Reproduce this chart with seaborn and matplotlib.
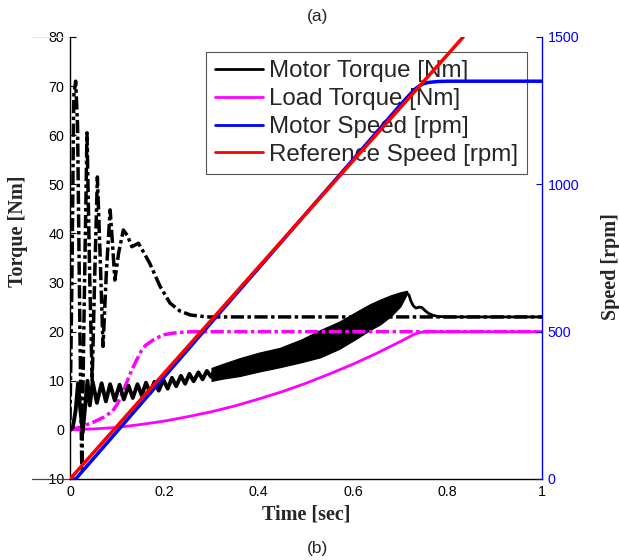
import matplotlib
matplotlib.use('Agg')
import matplotlib.pyplot as plt
import seaborn as sns
from matplotlib.lines import Line2D

# =====================
# DATA
# =====================
# reference speed [rpm]
t_ref = [0.0, 0.833]
spd_ref = [0, 1500]

# motor speed [rpm]
t_spd = [0.0, 0.012, 0.1, 0.2, 0.3, 0.4, 0.5, 0.6, 0.7, 0.72, 0.73, 0.74, 0.75, 0.76, 0.78, 0.8, 1.0]
spd_motor = [0, 0, 162, 347, 532, 716, 901, 1085, 1270, 1305, 1322, 1334, 1342, 1346, 1349, 1350, 1350]

# load torque, solid case [Nm]
t_load = [0.0, 0.05, 0.1, 0.15, 0.2, 0.25, 0.3, 0.35, 0.4, 0.45, 0.5, 0.55, 0.6, 0.65, 0.7,
          0.72, 0.73, 0.74, 0.75, 0.76, 0.78, 1.0]
tq_load = [0, 0.2, 0.5, 1.1, 1.8, 2.7, 3.7, 4.9, 6.3, 7.8, 9.5, 11.4, 13.4, 15.6, 18.0,
           19.0, 19.5, 19.8, 19.95, 20, 20, 20]

# load torque, dash-dot case [Nm]
t_load2 = [0.0, 0.02, 0.05, 0.07, 0.09, 0.1, 0.11, 0.12, 0.13, 0.14, 0.15, 0.16, 0.176,
           0.19, 0.2, 0.218, 0.24, 0.26, 1.0]
tq_load2 = [0, 0.5, 1.6, 2.5, 3.8, 5.2, 7.3, 9.6, 12.0, 14.0, 15.9, 17.2, 18.3,
            19.0, 19.4, 19.7, 19.9, 20, 20]

# motor torque, dash-dot case [Nm]
t_mt2 = [0.0, 0.004, 0.008, 0.012, 0.016, 0.021, 0.025, 0.030, 0.036, 0.042, 0.047, 0.052,
         0.058, 0.064, 0.070, 0.077, 0.085, 0.090, 0.095, 0.103, 0.113, 0.122, 0.131, 0.145,
         0.157, 0.169, 0.191, 0.212, 0.233, 0.255, 0.29, 1.0]
tq_mt2 = [2, 30, 68, 71, 62, 20, -8, 25, 60.5, 30, 10, 30,
          51.5, 35, 17, 32, 44.8, 38, 30.5, 36, 40.7, 39.5, 37.3, 38.0,
          36.0, 33.9, 29.2, 25.8, 24.2, 23.4, 23.0, 23.0]

# motor torque, solid case: start-up ripple [Nm]
t_mt_start = [0.0, 0.006, 0.012, 0.017, 0.022, 0.027, 0.037, 0.042, 0.048, 0.057, 0.067,
              0.076, 0.085, 0.095, 0.105, 0.114, 0.124, 0.133, 0.143, 0.152, 0.161, 0.170,
              0.179, 0.188, 0.198, 0.207, 0.216, 0.225, 0.235, 0.244, 0.253, 0.262, 0.272,
              0.281, 0.29, 0.299, 0.308, 0.317]
tq_mt_start = [0, 0.5, 4, 9.5, 4, -0.5, 10, 5, 9.8, 5.5, 9.5,
               5.8, 9.3, 6.0, 9.2, 6.2, 9.0, 6.5, 9.3, 7.0, 9.6, 7.5,
               9.8, 8.0, 10.2, 8.4, 10.6, 8.9, 11.0, 9.4, 11.4, 9.9, 11.7,
               10.3, 12.0, 10.8, 12.3, 11.4]

# motor torque, solid case: dense ripple band (envelope) [Nm]
t_band = [0.30, 0.32, 0.36, 0.40, 0.445, 0.49, 0.53, 0.57, 0.61, 0.636, 0.657, 0.68, 0.70, 0.714]
band_hi = [12.6, 13.3, 14.6, 15.7, 16.7, 18.4, 20.3, 22.0, 24.2, 25.6, 26.5, 27.4, 28.0, 28.3]
band_lo = [10.0, 10.4, 11.0, 11.9, 12.8, 13.8, 14.8, 16.5, 18.8, 20.4, 21.5, 23.2, 25.2, 27.8]

# motor torque, solid case: after the ramp [Nm]
t_mt_end = [0.714, 0.718, 0.722, 0.727, 0.733, 0.74, 0.746, 0.752, 0.76, 0.77, 0.78, 0.8, 1.0]
tq_mt_end = [27.8, 27.5, 26.3, 25.3, 24.8, 25.0, 24.9, 24.3, 23.7, 23.3, 23.1, 23.0, 23.0]

x_ticks = [0, 0.2, 0.4, 0.6, 0.8, 1.0]
x_ticklabels = ['0', '0.2', '0.4', '0.6', '0.8', '1']
tq_ticks = list(range(-10, 81, 10))
spd_ticks = [0, 500, 1000, 1500]
grid_tq = [20, 50, 80]   # torque levels that line up with the speed ticks

# =====================
# STYLE
# =====================
sns.set_style('white')
plt.rcParams['font.family'] = ['Liberation Sans', 'DejaVu Sans']
serif_bold = dict(family=['Liberation Serif', 'DejaVu Serif'], fontweight='bold', fontsize=14.5)

BLACK, MAGENTA, BLUE, RED = '#000000', '#ff00ff', '#0000ff', '#ff0000'
GRID = '#e2e2f8'
dashdot = (0, (3.8, 1.0, 1.0, 1.0))

fig = plt.figure(figsize=(6.19, 5.6), dpi=100)
ax = fig.add_axes([70 / 619, 81 / 560, 472 / 619, 442 / 560])
ax2 = ax.twinx()

# =====================
# TORQUE (left axis)
# =====================
ax.set_yticks(grid_tq, minor=True)
ax.grid(which='minor', axis='y', color=GRID, lw=0.8)
ax.set_axisbelow(True)

sns.lineplot(x=t_mt2, y=tq_mt2, ax=ax, color=BLACK, lw=2.5, linestyle=dashdot,
             estimator=None, sort=False)
sns.lineplot(x=t_load2, y=tq_load2, ax=ax, color=MAGENTA, lw=2.5, linestyle=dashdot,
             estimator=None, sort=False)
sns.lineplot(x=t_load, y=tq_load, ax=ax, color=MAGENTA, lw=2.0, estimator=None, sort=False)
sns.lineplot(x=t_mt_start, y=tq_mt_start, ax=ax, color=BLACK, lw=2.8, estimator=None, sort=False)
ax.fill_between(t_band, band_lo, band_hi, color=BLACK, lw=1.0, edgecolor=BLACK)
sns.lineplot(x=t_mt_end, y=tq_mt_end, ax=ax, color=BLACK, lw=2.0, estimator=None, sort=False)

ax.set_xlim(0, 1)
ax.set_ylim(-10, 80)
ax.set_xticks(x_ticks)
ax.set_xticklabels(x_ticklabels)
ax.set_yticks(tq_ticks)
ax.tick_params(axis='both', which='major', direction='in', length=4, width=0.8,
               labelsize=10.3, colors='black', pad=4, right=False, top=False)
ax.tick_params(axis='y', which='minor', length=0)
for side in ['top', 'right']:
    ax.spines[side].set_visible(False)
for side in ['left', 'bottom']:
    ax.spines[side].set_color('black')
    ax.spines[side].set_linewidth(1.0)

ax.set_xlabel('Time [sec]', **serif_bold)
ax.xaxis.set_label_coords(0.5, -0.058)
ax.set_ylabel('Torque [Nm]', **serif_bold)
ax.yaxis.set_label_coords(-0.089, 0.56)

# =====================
# SPEED (right axis)
# =====================
sns.lineplot(x=t_spd, y=spd_motor, ax=ax2, color=BLUE, lw=2.5, estimator=None, sort=False)
sns.lineplot(x=t_ref, y=spd_ref, ax=ax2, color=RED, lw=2.5, estimator=None, sort=False)
ax2.set_ylim(0, 1500)
ax2.set_yticks(spd_ticks)
ax2.grid(False)
ax2.tick_params(axis='y', direction='in', length=4, width=0.8, labelsize=10.3,
                colors=BLUE, labelcolor=BLUE, pad=4)
for side in ['top', 'left', 'bottom']:
    ax2.spines[side].set_visible(False)
ax2.spines['right'].set_color(BLUE)
ax2.spines['right'].set_linewidth(1.0)
ax2.set_ylabel('Speed [rpm]', **serif_bold)
ax2.yaxis.set_label_coords(1.124, 0.48)

# light lines running past the left spine, as in the original export
ax.axhline(80, xmin=-0.08, xmax=0.0, color=GRID, lw=0.8, clip_on=False)
ax.axhline(-10, xmin=-0.08, xmax=0.0, color='#444444', lw=0.9, clip_on=False)

# =====================
# LEGEND (sits under the speed lines, as in the reference)
# =====================
handles = [Line2D([], [], color=BLACK, lw=2.0), Line2D([], [], color=MAGENTA, lw=2.0),
           Line2D([], [], color=BLUE, lw=2.0), Line2D([], [], color=RED, lw=2.0)]
labels = ['Motor Torque [Nm]', 'Load Torque [Nm]', 'Motor Speed [rpm]', 'Reference Speed [rpm]']
leg = ax2.legend(handles, labels, loc='upper right', bbox_to_anchor=(0.968, 0.966),
                 borderaxespad=0, fontsize=17.4, frameon=True, fancybox=False,
                 framealpha=1, edgecolor='#555555', handlelength=2.0, handletextpad=0.25,
                 labelspacing=0.24, borderpad=0.35)
leg.get_frame().set_linewidth(0.8)
leg.set_zorder(1)

fig.text(318 / 619, 1 - 17 / 560, '(a)', ha='center', va='center', fontsize=12.5)
fig.text(318 / 619, 1 - 548 / 560, '(b)', ha='center', va='center', fontsize=12.5)

fig.savefig('out.png', dpi=100)
plt.close(fig)
